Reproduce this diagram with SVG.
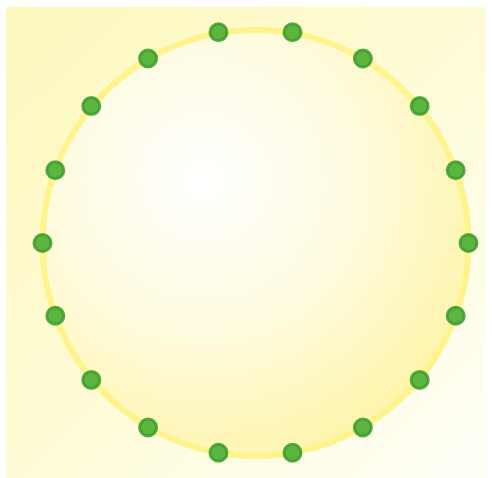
<svg xmlns="http://www.w3.org/2000/svg" width="492" height="478" viewBox="0 0 492 478">
<defs>
<linearGradient id="bg" x1="0" y1="0" x2="1" y2="1">
<stop offset="0" stop-color="#fdf8bd"/>
<stop offset="0.5" stop-color="#fefbd6"/>
<stop offset="1" stop-color="#fffff8"/>
</linearGradient>
<radialGradient id="disc" cx="0.38" cy="0.35" r="0.72">
<stop offset="0" stop-color="#ffffff"/>
<stop offset="0.5" stop-color="#fffbdf"/>
<stop offset="1" stop-color="#fdf4a6"/>
</radialGradient>
<style>
.dot{fill:#5bb53e;stroke:#3c9c2c;stroke-width:3;stroke-opacity:0.85}
</style>
</defs>
<rect x="6" y="7" width="480" height="471" fill="url(#bg)"/>
<g id="ring">
<circle cx="255.5" cy="243" r="213" fill="url(#disc)" stroke="#fff38c" stroke-width="6"/>
</g>
<g id="nodes">
<circle id="n0" class="dot" cx="468.5" cy="243" r="8.5"/>
<circle id="n1" class="dot" cx="455.7" cy="170.2" r="8.5"/>
<circle id="n2" class="dot" cx="419.7" cy="106.1" r="8.5"/>
<circle id="n3" class="dot" cx="362.9" cy="58.5" r="8.5"/>
<circle id="n4" class="dot" cx="292.5" cy="32.2" r="8.5"/>
<circle id="n5" class="dot" cx="218.5" cy="32.2" r="8.5"/>
<circle id="n6" class="dot" cx="148.1" cy="58.5" r="8.5"/>
<circle id="n7" class="dot" cx="91.3" cy="106.1" r="8.5"/>
<circle id="n8" class="dot" cx="55.3" cy="170.2" r="8.5"/>
<circle id="n9" class="dot" cx="42.5" cy="243" r="8.5"/>
<circle id="n10" class="dot" cx="55.3" cy="315.8" r="8.5"/>
<circle id="n11" class="dot" cx="91.3" cy="379.9" r="8.5"/>
<circle id="n12" class="dot" cx="148.1" cy="427.5" r="8.5"/>
<circle id="n13" class="dot" cx="218.5" cy="452.8" r="8.5"/>
<circle id="n14" class="dot" cx="292.5" cy="452.8" r="8.5"/>
<circle id="n15" class="dot" cx="362.9" cy="427.5" r="8.5"/>
<circle id="n16" class="dot" cx="419.7" cy="379.9" r="8.5"/>
<circle id="n17" class="dot" cx="455.7" cy="315.8" r="8.5"/>
</g>
</svg>
